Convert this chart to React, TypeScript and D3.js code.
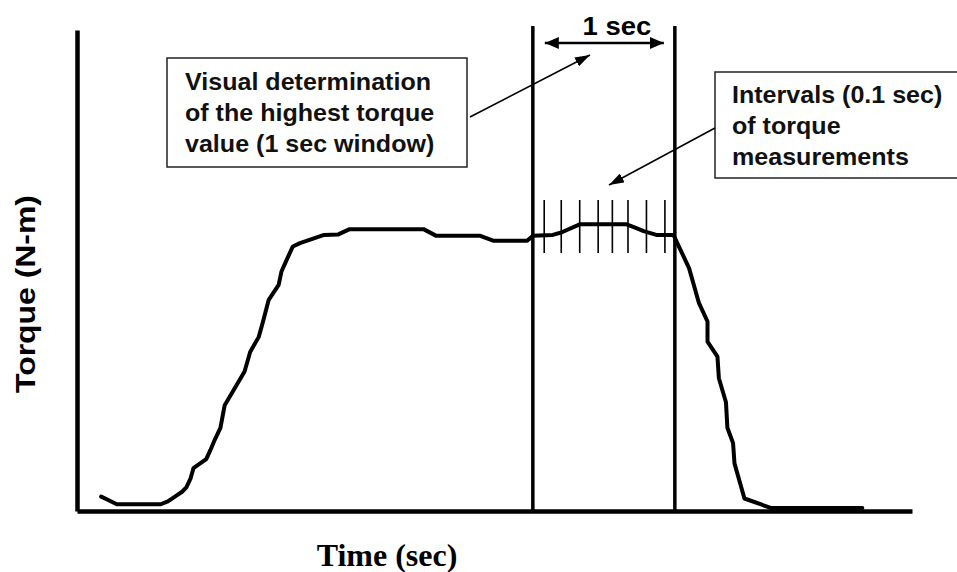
import { useEffect, useRef } from "react";
import * as d3 from "d3";

// torque trace (time in sec, torque in arbitrary N-m units)
const timeSec = [
  0.17, 0.22, 0.28, 0.59, 0.64, 0.69, 0.74, 0.77, 0.8, 0.82, 0.91, 0.94, 0.97,
  1.01, 1.04, 1.09, 1.18, 1.22, 1.28, 1.31, 1.35, 1.42, 1.44, 1.47, 1.52, 1.57,
  1.74, 1.84, 1.92, 2.44, 2.53, 2.84, 2.93, 3.17, 3.21, 3.35, 3.41, 3.54, 3.87,
  3.93, 3.99, 4.08, 4.2, 4.31, 4.38, 4.44, 4.44, 4.51, 4.52, 4.57, 4.58, 4.62,
  4.63, 4.7, 4.89, 5.53,
];
const torqueNm = [
  3.0, 2.3, 1.4, 1.4, 2.0, 3.0, 4.0, 4.9, 6.8, 8.9, 10.8, 12.7, 14.8, 17.3,
  22.0, 24.5, 29.0, 33.1, 36.2, 39.4, 43.9, 47.0, 49.8, 51.8, 55.0, 55.7, 57.4,
  57.5, 58.6, 58.6, 57.2, 57.2, 56.2, 56.2, 57.2, 57.4, 57.9, 59.6, 59.6, 58.9,
  58.2, 57.4, 57.4, 50.5, 43.2, 39.4, 35.2, 32.1, 27.6, 22.6, 17.3, 14.1, 9.9,
  2.6, 0.6, 0.6,
];

// 1 sec window and the interval marks inside it
const windowSec = [3.21, 4.21];
const intervalTicks = [3.29, 3.41, 3.54, 3.67, 3.77, 3.88, 4.01, 4.14];

const boxLeftLines = [
  "Visual determination",
  "of the highest torque",
  "value (1 sec window)",
];
const boxRightLines = ["Intervals (0.1 sec)", "of torque", "measurements"];

const W = 957;
const H = 572;

const App = () => {
  const svgRef = useRef<SVGSVGElement | null>(null);

  useEffect(() => {
    if (!svgRef.current) return;
    const root = d3.select(svgRef.current);
    root.selectAll("*").remove();

    const x = d3.scaleLinear().domain([0, 5.88]).range([77, 912]);
    const y = d3.scaleLinear().domain([0, 100]).range([511, 30]);

    // arrow heads
    const defs = root.append("defs");
    const marker = (id: string, len: number, wid: number) =>
      defs
        .append("marker")
        .attr("id", id)
        .attr("markerUnits", "userSpaceOnUse")
        .attr("viewBox", `0 0 ${len} ${wid}`)
        .attr("refX", len)
        .attr("refY", wid / 2)
        .attr("markerWidth", len)
        .attr("markerHeight", wid)
        .attr("orient", "auto-start-reverse")
        .append("path")
        .attr("d", `M0,0L${len},${wid / 2}L0,${wid}Z`)
        .attr("fill", "#000");
    marker("headThin", 15, 10);
    marker("headBold", 14, 12);

    // axes (no ticks, just heavy lines)
    root
      .append("g")
      .attr("transform", `translate(0, ${y(0)})`)
      .call(d3.axisBottom(x).tickValues([]).tickSizeOuter(0))
      .select(".domain")
      .attr("stroke", "#000")
      .attr("stroke-width", 4.5);
    root
      .append("g")
      .attr("transform", `translate(${x(0)}, 0)`)
      .call(d3.axisLeft(y).tickValues([]).tickSizeOuter(0))
      .select(".domain")
      .attr("stroke", "#000")
      .attr("stroke-width", 4.5);

    // window lines
    root
      .selectAll("line.win")
      .data(windowSec)
      .enter()
      .append("line")
      .attr("class", "win")
      .attr("x1", (d) => x(d))
      .attr("x2", (d) => x(d))
      .attr("y1", 26)
      .attr("y2", y(0))
      .attr("stroke", "#000")
      .attr("stroke-width", 3.5);

    // 0.1 sec interval marks
    root
      .selectAll("line.tick")
      .data(intervalTicks)
      .enter()
      .append("line")
      .attr("class", "tick")
      .attr("x1", (d) => x(d))
      .attr("x2", (d) => x(d))
      .attr("y1", 200)
      .attr("y2", 253)
      .attr("stroke", "#000")
      .attr("stroke-width", 1.6);

    // torque trace
    const data = timeSec.map((t, i) => ({ t, v: torqueNm[i] }));
    const line = d3
      .line<{ t: number; v: number }>()
      .x((d) => x(d.t))
      .y((d) => y(d.v));
    root
      .append("path")
      .datum(data)
      .attr("fill", "none")
      .attr("stroke", "#000")
      .attr("stroke-width", 4)
      .attr("stroke-linejoin", "round")
      .attr("stroke-linecap", "round")
      .attr("d", line as any);

    // "1 sec" double arrow
    root
      .append("line")
      .attr("x1", x(windowSec[0]) + 12)
      .attr("x2", x(windowSec[1]) - 11)
      .attr("y1", 43)
      .attr("y2", 43)
      .attr("stroke", "#000")
      .attr("stroke-width", 2.5)
      .attr("marker-start", "url(#headBold)")
      .attr("marker-end", "url(#headBold)");
    root
      .append("text")
      .attr("transform", `translate(617, 35) scale(1.1,1)`)
      .attr("text-anchor", "middle")
      .style("font-family", "Arial, 'Liberation Sans', sans-serif")
      .style("font-weight", "bold")
      .style("font-size", "25px")
      .text("1 sec");

    // callout boxes
    const box = (x0: number, y0: number, w: number, h: number, tx: number, ty: number, lines: string[]) => {
      root
        .append("rect")
        .attr("x", x0)
        .attr("y", y0)
        .attr("width", w)
        .attr("height", h)
        .attr("fill", "#fff")
        .attr("stroke", "#222")
        .attr("stroke-width", 1.5);
      lines.forEach((s, i) => {
        root
          .append("text")
          .attr("transform", `translate(${tx}, ${ty + i * 31}) scale(1.09,1)`)
          .style("font-family", "Arial, 'Liberation Sans', sans-serif")
          .style("font-weight", "bold")
          .style("font-size", "23px")
          .attr("fill", "#111")
          .text(s);
      });
    };
    box(167, 58, 300, 109, 185, 90, boxLeftLines);
    box(715, 72, 250, 106, 732, 103, boxRightLines);

    // pointer arrows
    root
      .append("line")
      .attr("x1", 470)
      .attr("y1", 117)
      .attr("x2", 590)
      .attr("y2", 55)
      .attr("stroke", "#000")
      .attr("stroke-width", 1.5)
      .attr("marker-end", "url(#headThin)");
    root
      .append("line")
      .attr("x1", 715)
      .attr("y1", 128)
      .attr("x2", 609)
      .attr("y2", 185)
      .attr("stroke", "#000")
      .attr("stroke-width", 1.5)
      .attr("marker-end", "url(#headThin)");

    // axis titles
    root
      .append("text")
      .attr("transform", `translate(35, ${294}) rotate(-90)`)
      .attr("text-anchor", "middle")
      .attr("textLength", 198)
      .attr("lengthAdjust", "spacingAndGlyphs")
      .style("font-family", "Arial, 'Liberation Sans', sans-serif")
      .style("font-weight", "bold")
      .style("font-size", "28px")
      .text("Torque (N-m)");
    root
      .append("text")
      .attr("x", 387)
      .attr("y", 566)
      .attr("text-anchor", "middle")
      .style("font-family", "'Times New Roman', 'Liberation Serif', serif")
      .style("font-weight", "bold")
      .style("font-size", "32px")
      .text("Time (sec)");
  }, []);

  return (
    <div style={{ position: "absolute", left: 0, top: 0, width: W, height: H, background: "#fff" }}>
      <svg ref={svgRef} width={W} height={H}></svg>
    </div>
  );
};

export default App;
